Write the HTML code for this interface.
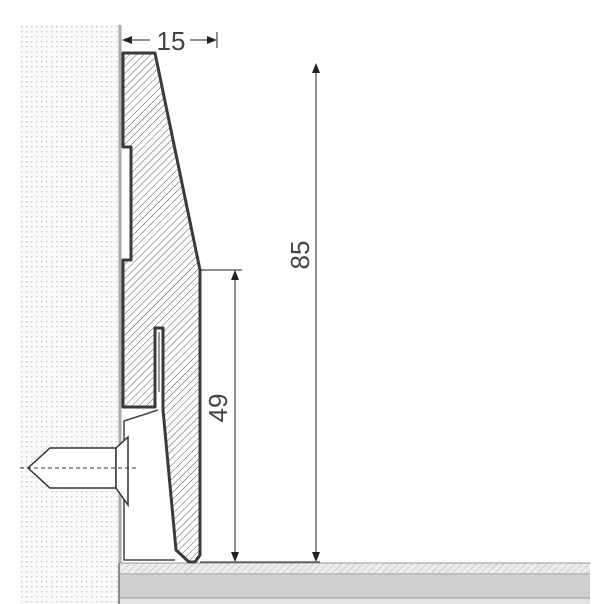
<!DOCTYPE html>
<html><head><style>body{margin:0;background:#fff}svg{display:block}</style></head><body>
<svg width="604" height="604" viewBox="0 0 604 604" xmlns="http://www.w3.org/2000/svg">
<defs>
<pattern id="dots" width="5" height="5" patternUnits="userSpaceOnUse"><rect width="5" height="5" fill="#fafafa"/><rect x="1" y="1" width="1.4" height="1.4" fill="#c8c8c8"/></pattern>
<pattern id="hatch" width="5" height="5" patternUnits="userSpaceOnUse" patternTransform="rotate(45)"><rect width="5" height="5" fill="#fff"/><line x1="0" y1="0" x2="0" y2="5" stroke="#555" stroke-width="1"/></pattern>
<marker id="ar" markerWidth="10" markerHeight="8" refX="9" refY="4" orient="auto" markerUnits="userSpaceOnUse"><path d="M0,0 L10,4 L0,8z" fill="#222"/></marker>
</defs>
<rect x="20" y="25" width="100" height="579" fill="url(#dots)"/>
<line x1="120" y1="25" x2="120" y2="604" stroke="#aaa" stroke-width="3"/>
<rect x="119" y="563" width="471" height="41" fill="#e2e2e2"/>
<rect x="119" y="563" width="471" height="10" fill="url(#hatch)" opacity="0.35"/>
<rect x="119" y="575" width="471" height="23" fill="#cfcfcf"/>
<line x1="119" y1="563" x2="590" y2="563" stroke="#999"/>
<line x1="119" y1="574" x2="590" y2="574" stroke="#999"/>
<line x1="119" y1="598" x2="590" y2="598" stroke="#999"/>
<line x1="119" y1="563" x2="119" y2="604" stroke="#888" stroke-width="2"/>
<polyline points="158,410 124,421 124,560 175,560" fill="none" stroke="#444" stroke-width="1.5"/>
<path d="M123,53 L155,53 L200,270 L200,555 L195,562 L189,562 L176,550 L163,410 L163,328 L155,328 L155,407 L123,407 L123,260 L131,260 L131,147 L123,147 Z" fill="url(#hatch)" stroke="#3a3a3a" stroke-width="3" stroke-linejoin="round"/>
<line x1="159" y1="332" x2="159" y2="392" stroke="#999" stroke-width="2"/>
<path d="M50,448 L116,448 L116,488 L50,488 L28,468 Z" fill="#fff" stroke="#333" stroke-width="1.5"/>
<path d="M116,448 L128,437 L128,505 L116,488 Z" fill="#fff" stroke="#333" stroke-width="1.5"/>
<line x1="20" y1="468" x2="138" y2="468" stroke="#333" stroke-dasharray="4,3"/>
<line x1="150" y1="40" x2="123" y2="40" stroke="#222" marker-end="url(#ar)"/>
<line x1="190" y1="40" x2="216" y2="40" stroke="#222" marker-end="url(#ar)"/>
<line x1="217" y1="32" x2="217" y2="48" stroke="#222"/>
<text x="171" y="50" font-family="Liberation Sans, sans-serif" font-size="26" fill="#444" text-anchor="middle">15</text>
<line x1="316" y1="560" x2="316" y2="64" stroke="#222" marker-end="url(#ar)"/>
<line x1="316" y1="66" x2="316" y2="561" stroke="#222" marker-end="url(#ar)"/>
<text transform="translate(309,255) rotate(-90)" font-family="Liberation Sans, sans-serif" font-size="26" fill="#444" text-anchor="middle">85</text>
<line x1="200" y1="270" x2="242" y2="270" stroke="#222"/>
<line x1="200" y1="562" x2="320" y2="562" stroke="#222"/>
<line x1="235" y1="540" x2="235" y2="271" stroke="#222" marker-end="url(#ar)"/>
<line x1="235" y1="290" x2="235" y2="561" stroke="#222" marker-end="url(#ar)"/>
<text transform="translate(227,408) rotate(-90)" font-family="Liberation Sans, sans-serif" font-size="26" fill="#444" text-anchor="middle">49</text>
</svg>
</body></html>
